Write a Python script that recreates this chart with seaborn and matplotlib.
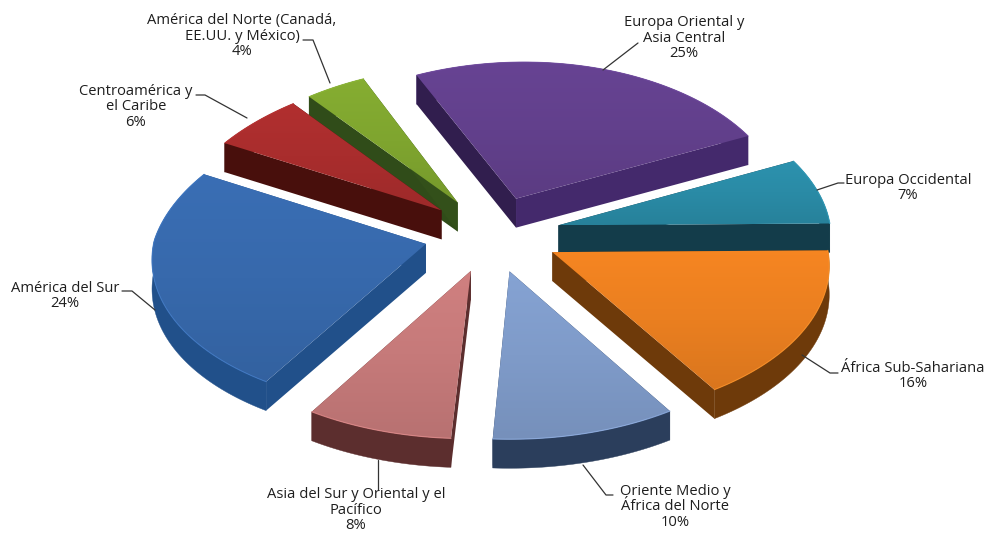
import numpy as np
import matplotlib
matplotlib.use("Agg")
import matplotlib.pyplot as plt
import seaborn as sns
from matplotlib.colors import LinearSegmentedColormap, to_rgb
from matplotlib.patches import Polygon

# Regional shares, clockwise from the back of the pie
regions = ["Europa Oriental y\nAsia Central", "Europa Occidental", "África Sub-Sahariana",
           "Oriente Medio y\nÁfrica del Norte", "Asia del Sur y Oriental y el\nPacífico",
           "América del Sur", "Centroamérica y\nel Caribe",
           "América del Norte (Canadá,\nEE.UU. y México)"]
shares = [25, 7, 16, 10, 8, 24, 6, 4]

top_colors = ["#62408C", "#2A8BA6", "#EA7F20", "#7F9BC9", "#C67A7A", "#3769AC", "#A92D2D", "#7FA52F"]
wall_colors = ["#44296C", "#133C4A", "#6E3A0A", "#2B3E5C", "#5C2E2E", "#21508A", "#480F0C", "#33501A"]
left_face_shade = [0.72, 1, 1, 1, 1, 1, 1, 0.95]

sns.set_theme(style="white")
plt.rcParams["font.family"] = ["Open Sans", "DejaVu Sans"]

CX, CY = 490, 234          # pie centre in pixels
RX, RY = 272, 152          # ellipse radii of the tilted disc
TAPER_BACK, TAPER_FRONT, TAPER_Y = 0.10, 0.08, 0.07   # foreshortening
DEPTH = 29                 # wall height
EXPLODE = 0.25             # offset of each slice from the centre
START = -23.8              # first boundary, degrees clockwise from the back


def project(u, v, drop=0.0):
    """Map disc coordinates (u right, v back) to canvas pixels."""
    taper = np.where(v > 0, TAPER_BACK, TAPER_FRONT)
    x = CX + u * RX * (1 - taper * v) + 2 + 8 * np.maximum(-v, 0)
    y = CY - v * RY * (1 - TAPER_Y * v) - 5.5 * u + drop
    return np.column_stack([x, y])


def shade(color, factor):
    return tuple(min(1, c * factor) for c in to_rgb(color))


fig = plt.figure(figsize=(9.86, 5.34), dpi=100, facecolor="white")
ax = fig.add_axes([0, 0, 1, 1])
ax.set_xlim(0, 986)
ax.set_ylim(534, 0)
ax.axis("off")

edges = START + np.cumsum([0] + shares) * 3.6
slices = []
for i in range(len(shares)):
    a0, a1 = np.radians(edges[i]), np.radians(edges[i + 1])
    mid = (a0 + a1) / 2
    slices.append((np.cos(mid), i, a0, a1, mid))

# Painter's order: furthest slice first
for _, i, a0, a1, mid in sorted(slices, reverse=True):
    ox, oy = EXPLODE * np.sin(mid), EXPLODE * np.cos(mid)
    t = np.linspace(a0, a1, 80)
    u = np.r_[ox, ox + np.sin(t)]
    v = np.r_[oy, oy + np.cos(t)]
    top = project(u, v)
    low = project(u, v, DEPTH)
    z = 1 + (1 - oy) * 10

    wall = wall_colors[i]
    # Outer rim first, then the two cut faces
    ax.add_patch(Polygon(np.vstack([top[1:], low[1:][::-1]]), closed=True,
                         fc=wall, ec=wall, lw=0.3, zorder=z))
    ax.add_patch(Polygon(np.vstack([top[[0, 1]], low[[1, 0]]]), closed=True,
                         fc=shade(wall, left_face_shade[i]), ec="none", zorder=z))
    ax.add_patch(Polygon(np.vstack([top[[0, -1]], low[[-1, 0]]]), closed=True,
                         fc=wall, ec="none", zorder=z))

    # Top surface with a soft vertical gradient clipped to the wedge
    face = Polygon(top, closed=True, fc="none", ec="none", zorder=z + 0.5)
    ax.add_patch(face)
    cmap = LinearSegmentedColormap.from_list(
        "wedge", [shade(top_colors[i], 1.05), top_colors[i], shade(top_colors[i], 0.93)])
    img = ax.imshow(np.linspace(0, 1, 64)[:, None], cmap=cmap, aspect="auto",
                    extent=(top[:, 0].min(), top[:, 0].max(), top[:, 1].max(), top[:, 1].min()),
                    zorder=z + 0.5)
    img.set_clip_path(face)

    # Thin bevel highlight along the rim of the top surface
    ax.plot(top[1:, 0], top[1:, 1], color=shade(top_colors[i], 1.15), lw=0.8,
            alpha=0.8, zorder=z + 0.6)

ax.set_xlim(0, 986)
ax.set_ylim(534, 0)

# Label centres and leader lines, in pixels
placements = [
    ((684, 38), [(638, 43), (603, 70)]),
    ((908, 188), [(844, 183), (838, 183), (817, 190)]),
    ((913, 376), [(838, 373), (830, 373), (802, 355)]),
    ((675, 507), [(613, 495), (606, 495), (583, 465)]),
    ((356, 510), [(378, 490), (378, 460)]),
    ((65, 296), [(122, 291), (132, 291), (155, 310)]),
    ((136, 107), [(196, 95), (205, 95), (247, 118)]),
    ((242, 36), [(303, 40), (313, 40), (330, 83)]),
]

for name, share, ((x, y), leader) in zip(regions, shares, placements):
    ax.text(x, y, f"{name}\n{share}%", ha="center", va="center", fontsize=10.6,
            color="#1E1E1E", linespacing=1.04, zorder=40)
    xs, ys = zip(*leader)
    ax.plot(xs, ys, color="#333333", lw=0.9, zorder=39)

fig.savefig("out.png", dpi=100)
